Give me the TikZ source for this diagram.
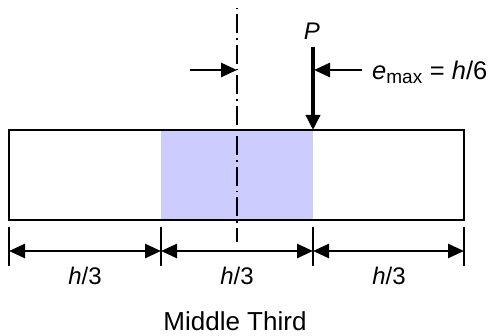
\documentclass[tikz,border=0pt]{standalone}
\usepackage{fontspec}
\setmainfont{Liberation Sans}
\usetikzlibrary{arrows.meta}
\begin{document}
\begin{tikzpicture}[x=1pt,y=-1pt,
  dimline/.style={line width=2.6pt,{Triangle[length=16pt,width=14pt]}-{Triangle[length=16pt,width=14pt]}},
  ptr/.style={line width=2.6pt,-{Triangle[length=16pt,width=14pt]}},
  tick/.style={line width=2pt},
  lbl/.style={font=\fontsize{24}{28}\selectfont,inner sep=0pt},
  axisline/.style={line width=1.7pt,dash pattern=on 1.5pt off 5pt on 19pt off 5pt}]
\useasboundingbox (0,0) rectangle (490,336);
% shaded middle third
\fill[fill={rgb,255:red,204;green,204;blue,255}] (161,130) rectangle (313,220);
% member
\coordinate (tl) at (9,130);
\coordinate (br) at (464,220);
\draw[line width=2.2pt] (tl) rectangle (br);
% centre line
\coordinate (c1) at (237,8);
\coordinate (c2) at (237,242);
\draw[axisline] (c1) -- (c2);
% ticks
\foreach \n/\x in {a/9,b/161,c/313,d/464}{
  \coordinate (\n1) at (\x,227);
  \coordinate (\n2) at (\x,266);
  \coordinate (\n) at (\x,251);
  \draw[tick] (\n1) -- (\n2);
}
\draw[dimline] (a) -- (b);
\draw[dimline] (b) -- (c);
\draw[dimline] (c) -- (d);
% load P
\coordinate (p1) at (313,47);
\coordinate (p2) at (313,130);
\draw[line width=3.4pt,-{Triangle[length=15pt,width=14pt]}] (p1) -- (p2);
\node[lbl] (P) at (312,31) {\textit{P}};
% eccentricity arrows
\coordinate (l1) at (190,70);
\coordinate (l2) at (237,70);
\coordinate (r1) at (362,70);
\coordinate (r2) at (314,70);
\draw[ptr] (l1) -- (l2);
\draw[ptr] (r1) -- (r2);
\node[lbl,anchor=west,font=\fontsize{25.5}{28}\selectfont] (e) at (372,72) {\textit{e}\textsubscript{\fontsize{19}{22}\selectfont max} = \textit{h}/6};
% labels
\node[lbl] (h1) at (85,276) {\textit{h}/3};
\node[lbl] (h2) at (237,276) {\textit{h}/3};
\node[lbl] (h3) at (389,276) {\textit{h}/3};
\node[lbl,font=\fontsize{26}{30}\selectfont,anchor=base] (mt) at (235,331) {Middle Third};
\end{tikzpicture}
\end{document}
